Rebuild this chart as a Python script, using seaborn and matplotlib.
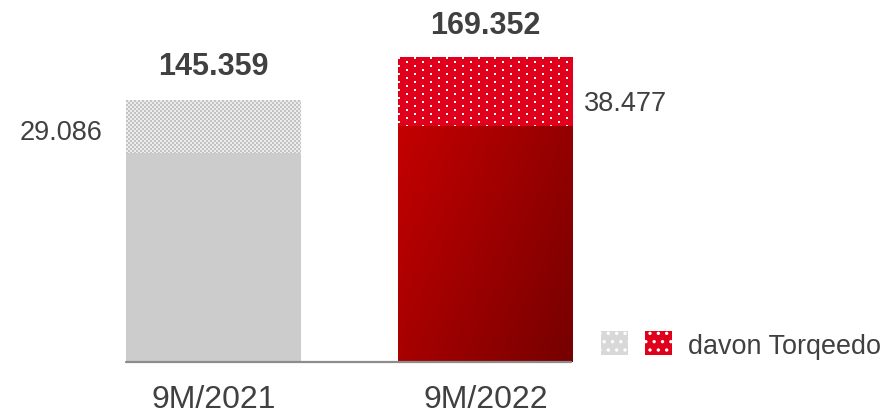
import numpy as np
import pandas as pd
import matplotlib
matplotlib.use("Agg")
import matplotlib.pyplot as plt
import seaborn as sns
from matplotlib.patches import Patch
from matplotlib.legend_handler import HandlerTuple

categories = ["9M/2021", "9M/2022"]
totals = [145.359, 169.352]
torqeedo = [29.086, 38.477]
total_labels = ["145.359", "169.352"]
torqeedo_labels = ["29.086", "38.477"]
legend_label = "davon Torqeedo"

base = [t - q for t, q in zip(totals, torqeedo)]
df = pd.DataFrame({"cat": categories, "total": totals, "base": base, "torq": torqeedo})

sns.set_theme(style="white")
plt.rcParams["font.family"] = ["Liberation Sans", "DejaVu Sans"]

W, H = 884, 414
XSCALE = 272.0   # px per x unit
YSCALE = 1.8     # px per y unit
fig = plt.figure(figsize=(W / 100, H / 100), dpi=100)
ax = fig.add_axes([0, 51 / H, 1, 363 / H])
ax.patch.set_alpha(0)

red_top = "#e0001b"
grey_base = "#cccccc"

# total bars (patterned top part)
sns.barplot(data=df, x="cat", y="total", ax=ax, width=0.643, color=red_top,
            saturation=1, linewidth=0)
top_patches = list(ax.patches)
for p in top_patches:
    p.set_zorder(1)

# base bars
sns.barplot(data=df, x="cat", y="base", ax=ax, width=0.643, color=grey_base,
            saturation=1, linewidth=0)
base_patches = [p for p in ax.patches if p not in top_patches]
for p in base_patches:
    p.set_zorder(3)


def hex2rgb(h):
    h = h.lstrip("#")
    return np.array([int(h[i:i + 2], 16) for i in (0, 2, 4)]) / 255.0


def fill_patch_image(patch, img, interp="nearest"):
    x0, y0 = patch.get_x(), patch.get_y()
    w, h = patch.get_width(), patch.get_height()
    z = patch.get_zorder()
    patch.set_facecolor("none")
    im = ax.imshow(img, extent=[x0, x0 + w, y0, y0 + h], origin="upper",
                   aspect="auto", zorder=z, interpolation=interp)
    im.set_clip_path(patch)


def pattern_for(patch, kind):
    wpx = int(round(patch.get_width() * XSCALE))
    hpx = int(round(patch.get_height() * YSCALE))
    yy, xx = np.mgrid[0:hpx, 0:wpx]
    if kind == "checker":
        a = hex2rgb("#c4c4c4")
        b = hex2rgb("#ececec")
        m = ((xx // 2 + yy // 2) % 2).astype(float)
    else:
        a = hex2rgb(red_top)
        b = hex2rgb("#ffffff")
        row = yy // 4
        off = (row % 2) * 8
        m = (((yy % 4) < 2) & (((xx + off) % 16) < 2)).astype(float)
    return a[None, None, :] * (1 - m[..., None]) + b[None, None, :] * m[..., None]


# patterned top segments
fill_patch_image(top_patches[0], pattern_for(top_patches[0], "checker"))
fill_patch_image(top_patches[1], pattern_for(top_patches[1], "dots"))

# gradient for the red base bar
bp = base_patches[1]
xx, yy = np.meshgrid(np.linspace(0, 1, 200), np.linspace(0, 1, 200))
t = np.clip(0.62 * xx + 0.38 * yy, 0, 1)  # row 0 is top (origin upper)
c0 = hex2rgb("#c40000")
c1 = hex2rgb("#760000")
grad = c0[None, None, :] * (1 - t[..., None]) + c1[None, None, :] * t[..., None]
fill_patch_image(bp, grad, interp="bilinear")

ax.set_xlim(-213.5 / XSCALE, (W - 213.5) / XSCALE)
ax.set_ylim(0, 363 / YSCALE)

# baseline
ax.plot([-0.32, 1.315], [0, 0], color="#8c8c8c", lw=1.6, zorder=5, clip_on=False)

# labels
for i, (tot, lab) in enumerate(zip(totals, total_labels)):
    ax.annotate(lab, (i, tot), xytext=(0, 25 if i == 0 else 23), textcoords="offset points",
                ha="center", va="center", fontsize=22, fontweight="bold", color="#404040")

ax.annotate(torqeedo_labels[0], (-0.32, base[0] + torqeedo[0] / 2), xytext=(-17, -4),
            textcoords="offset points", ha="right", va="center", fontsize=19.5, color="#404040")
ax.annotate(torqeedo_labels[1], (1.32, base[1] + torqeedo[1] / 2), xytext=(8, -8),
            textcoords="offset points", ha="left", va="center", fontsize=19.5, color="#404040")

ax.set_xticks([0, 1])
ax.set_xticklabels(categories, fontsize=23, color="#404040")
ax.tick_params(axis="x", length=0, pad=15.5)
ax.set_yticks([])
ax.set_xlabel("")
ax.set_ylabel("")
sns.despine(ax=ax, left=True, bottom=True)

# legend
plt.rcParams["hatch.linewidth"] = 1.2
h1 = Patch(facecolor="#d8d8d8", hatch="..", edgecolor="white", linewidth=0)
h2 = Patch(facecolor=red_top, hatch="..", edgecolor="white", linewidth=0)
leg = fig.legend([(h1, h2)], [legend_label], handler_map={tuple: HandlerTuple(ndivide=None, pad=0.6)},
                 loc="center left", bbox_to_anchor=(588 / W, 1 - 346 / H), frameon=False,
                 fontsize=19.4, handlelength=2.6, handleheight=1.0, handletextpad=0.6,
                 borderpad=0, labelcolor="#404040")

fig.savefig("out.png", dpi=100)
